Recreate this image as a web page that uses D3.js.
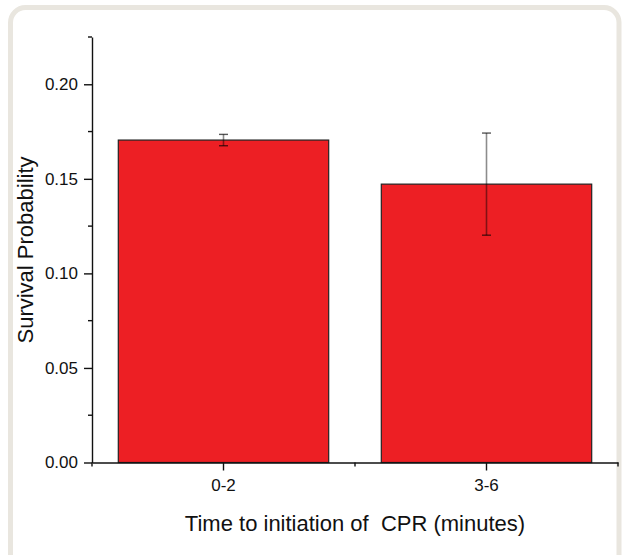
<!DOCTYPE html>
<meta charset="utf-8">
<title>Survival probability by time to CPR</title>
<style>
  body { margin: 0; background: #fff; }
  svg text { font-family: "Liberation Sans", Arial, sans-serif; fill: #111; }
  .axis path, .axis line { stroke: #111; stroke-width: 1.4; }
  .bar { fill: #ed1f24; stroke: #222; stroke-width: 1.2; }
</style>
<body>
<svg width="625" height="555"></svg>
<script src="https://d3js.org/d3.v7.min.js"></script>
<script>

// data
var categories = ["0-2", "3-6"];
var survival = [0.1705, 0.1472];
var errors = [0.003, 0.027];
var yTicks = [0, 0.05, 0.10, 0.15, 0.20];
var yMinorTicks = [0.025, 0.075, 0.125, 0.175, 0.225];

var data = categories.map(function(c, i) {
  return {cat: c, val: survival[i], err: errors[i]};
});

var svg = d3.select("svg");

// light rounded frame round the figure
svg.append("rect")
  .attr("x", 10.5).attr("y", 7.5)
  .attr("width", 608.5).attr("height", 620)
  .attr("rx", 15)
  .attr("fill", "#fff")
  .attr("stroke", "#e9e6df")
  .attr("stroke-width", 5);

var plotLeft = 92, plotRight = 618, plotTop = 37, plotBottom = 462.5;

var x = d3.scaleBand()
  .domain(categories)
  .range([plotLeft, plotRight])
  .paddingInner(0.2)
  .paddingOuter(0.1);

var y = d3.scaleLinear()
  .domain([0, 0.225])
  .range([plotBottom, plotTop]);

// bars
svg.selectAll(".bar")
  .data(data)
  .enter().append("rect")
  .attr("class", "bar")
  .attr("x", function(d) { return x(d.cat); })
  .attr("y", function(d) { return y(d.val); })
  .attr("width", x.bandwidth())
  .attr("height", function(d) { return y(0) - y(d.val); });

// error bars
var eb = svg.selectAll(".err")
  .data(data)
  .enter().append("g")
  .attr("class", "err")
  .attr("transform", function(d) { return "translate(" + (x(d.cat) + x.bandwidth() / 2) + ",0)"; });

eb.append("line")
  .attr("y1", function(d) { return y(d.val + d.err); })
  .attr("y2", function(d) { return y(d.val - d.err); })
  .attr("stroke", "rgba(0,0,0,0.45)")
  .attr("stroke-width", 1.6);

eb.selectAll(".cap")
  .data(function(d) { return [d.val + d.err, d.val - d.err]; })
  .enter().append("line")
  .attr("x1", -4.5).attr("x2", 4.5)
  .attr("y1", function(v) { return y(v); })
  .attr("y2", function(v) { return y(v); })
  .attr("stroke", "rgba(0,0,0,0.65)")
  .attr("stroke-width", 1.4);

// y axis
var yAxis = svg.append("g")
  .attr("class", "axis")
  .attr("transform", "translate(" + plotLeft + ",0)")
  .call(d3.axisLeft(y).tickValues(yTicks).tickFormat(d3.format(".2f")).tickSize(8).tickSizeOuter(0).tickPadding(6));
yAxis.selectAll("text").style("font-size", "17px");

yAxis.selectAll(".minor")
  .data(yMinorTicks)
  .enter().append("line")
  .attr("class", "minor")
  .attr("x1", -4).attr("x2", 0)
  .attr("y1", function(d) { return y(d); })
  .attr("y2", function(d) { return y(d); });

// x axis
var xAxis = svg.append("g")
  .attr("class", "axis")
  .attr("transform", "translate(0," + plotBottom + ")")
  .call(d3.axisBottom(x).tickSize(8).tickSizeOuter(0).tickPadding(8));
xAxis.selectAll("text").style("font-size", "17px");

// minor ticks at the category boundaries
var bounds = d3.range(categories.length + 1).map(function(i) {
  return plotLeft + i * (plotRight - plotLeft) / categories.length;
});
xAxis.selectAll(".minor")
  .data(bounds)
  .enter().append("line")
  .attr("class", "minor")
  .attr("x1", function(d) { return d; })
  .attr("x2", function(d) { return d; })
  .attr("y1", 0).attr("y2", 4);

// axis titles
svg.append("text")
  .attr("x", (plotLeft + plotRight) / 2)
  .attr("y", 531)
  .attr("text-anchor", "middle")
  .style("font-size", "22px")
  .text("Time to initiation of \u00a0CPR (minutes)");

svg.append("text")
  .attr("transform", "translate(33,250) rotate(-90)")
  .attr("text-anchor", "middle")
  .style("font-size", "22px")
  .text("Survival Probability");

</script>
</body>
